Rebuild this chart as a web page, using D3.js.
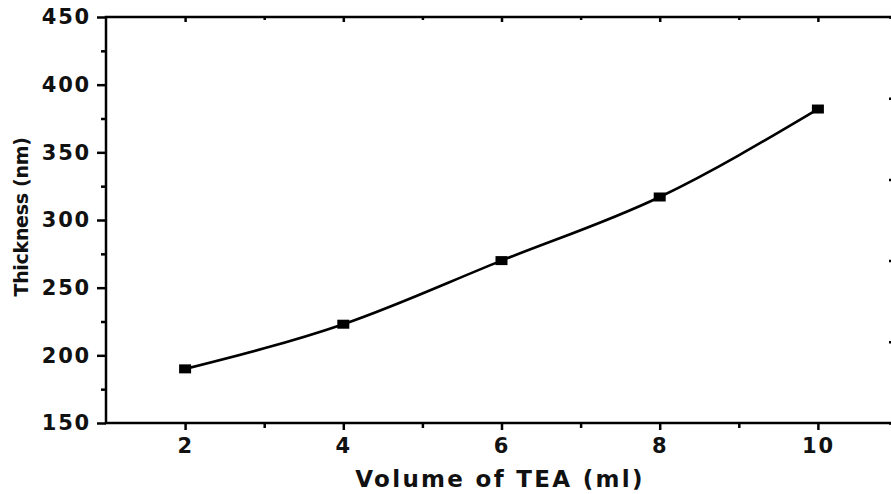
<!DOCTYPE html>
<html lang="en">
<head>
<script src="https://d3js.org/d3.v7.min.js"></script>
<style>
body { margin: 0; background: #fff; }
text { font-family: "DejaVu Sans", Verdana, sans-serif; font-weight: bold; fill: #111; }
</style>
</head>
<body>
<script>
// data
const volume = [2, 4, 6, 8, 10];
const thickness = [190, 223, 270, 317, 382];
const yTicks = [150, 200, 250, 300, 350, 400, 450];
const xTicks = [2, 4, 6, 8, 10];

const W = 891, H = 494;
const padLeft = 106, padTop = 17, padBottom = 423, rightEdge = 897;

const svg = d3.select("body").append("svg")
  .attr("width", W).attr("height", H);

const x = d3.scaleLinear().domain([1, 11]).range([padLeft, rightEdge]);
const y = d3.scaleLinear().domain([150, 450]).range([padBottom, padTop]);
// right-hand axis from the original figure, only its ticks show
const yR = d3.scaleLinear().domain([0, 5]).range([padBottom, padTop]);

// frame
svg.append("rect")
  .attr("x", padLeft).attr("y", padTop)
  .attr("width", rightEdge - padLeft).attr("height", padBottom - padTop)
  .attr("fill", "none").attr("stroke", "#000").attr("stroke-width", 2.5);

// left axis, major + minor ticks
const gl = svg.append("g").attr("transform", `translate(${padLeft},0)`)
  .call(d3.axisLeft(y).tickValues(yTicks).tickSize(9).tickPadding(6));
gl.append("g").call(d3.axisLeft(y).tickValues(d3.range(175, 450, 50)).tickSize(5).tickFormat(""));

// bottom axis
const gb = svg.append("g").attr("transform", `translate(0,${padBottom})`)
  .call(d3.axisBottom(x).tickValues(xTicks).tickSize(7).tickPadding(8));
gb.append("g").call(d3.axisBottom(x).tickValues([3, 5, 7, 9]).tickSize(5).tickFormat(""));

// top axis, inward ticks
svg.append("g").attr("transform", `translate(0,${padTop})`)
  .call(d3.axisBottom(x).tickValues(xTicks).tickSize(5).tickFormat(""))
  .call(g => g.append("g").call(d3.axisBottom(x).tickValues([3, 5, 7, 9]).tickSize(3).tickFormat("")));

// right axis, inward ticks
svg.append("g").attr("transform", `translate(${rightEdge},0)`)
  .call(d3.axisLeft(yR).ticks(5).tickSize(8).tickFormat(""));

svg.selectAll(".domain").attr("stroke", "none");
svg.selectAll(".tick line").attr("stroke", "#000").attr("stroke-width", 2.5);
svg.selectAll(".tick text").style("font-size", "21px").style("letter-spacing", "1.8px").attr("fill", "#111");

// curve
const pts = volume.map((v, i) => ({ v: v, t: thickness[i] }));
svg.append("path")
  .datum(pts)
  .attr("fill", "none")
  .attr("stroke", "#000")
  .attr("stroke-width", 2.6)
  .attr("d", d3.line().x(d => x(d.v)).y(d => y(d.t)).curve(d3.curveMonotoneX));

svg.selectAll("rect.pt")
  .data(pts)
  .enter().append("rect")
  .attr("class", "pt")
  .attr("x", d => x(d.v) - 6).attr("y", d => y(d.t) - 4.5)
  .attr("width", 12).attr("height", 9)
  .attr("fill", "#000");

// axis titles
svg.append("text")
  .attr("x", 500).attr("y", 487)
  .attr("text-anchor", "middle")
  .style("font-size", "23px").style("letter-spacing", "2.3px")
  .text("Volume of TEA (ml)");

svg.append("text")
  .attr("transform", "translate(28,217) rotate(-90)")
  .attr("text-anchor", "middle")
  .style("font-size", "19px").style("letter-spacing", "-0.3px")
  .text("Thickness (nm)");
</script>
</body>
</html>
